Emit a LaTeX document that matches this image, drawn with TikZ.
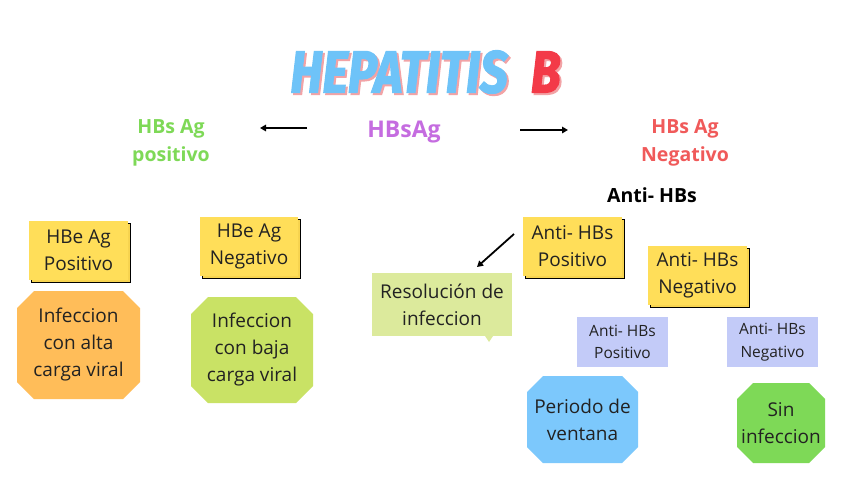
\documentclass[tikz,border=0pt]{standalone}
\usepackage{fontspec}
\setmainfont{Open Sans}
\newfontfamily\titlefont[BoldItalicFeatures={FakeBold=2.5}]{Fira Sans}
\usetikzlibrary{shadows,arrows.meta,backgrounds}
\definecolor{txt}{HTML}{222222}
\definecolor{ylw}{HTML}{FFDE59}
\definecolor{ylwb}{HTML}{F7D450}
\definecolor{orng}{HTML}{FFBD59}
\definecolor{lime}{HTML}{C9E265}
\definecolor{palelime}{HTML}{DCEA9C}
\definecolor{lav}{HTML}{C3CBF8}
\definecolor{skyb}{HTML}{7CC8FC}
\definecolor{grn}{HTML}{7ED957}
\definecolor{lblgreen}{HTML}{7ED957}
\definecolor{lblred}{HTML}{F05A5A}
\definecolor{lblpurple}{HTML}{C56CE0}
\definecolor{tblue}{HTML}{6EC3F8}
\definecolor{tred}{HTML}{F33A48}
\definecolor{tpink}{HTML}{F2A3A6}
\newcommand{\octafill}[3]{% node name, colour, cut
  \begin{pgfonlayer}{background}
  \fill[#2] ([xshift=#3pt]#1.north west) -- ([xshift=-#3pt]#1.north east)
    -- ([yshift=-#3pt]#1.north east) -- ([yshift=#3pt]#1.south east)
    -- ([xshift=-#3pt]#1.south east) -- ([xshift=#3pt]#1.south west)
    -- ([yshift=#3pt]#1.south west) -- ([yshift=-#3pt]#1.north west) -- cycle;
  \end{pgfonlayer}}
\begin{document}
\begin{tikzpicture}[x=1pt,y=-1pt,
  every node/.style={inner sep=0pt, outer sep=0pt, text=txt, align=center},
  body/.style={font=\fontsize{19}{27}\selectfont},
  small/.style={font=\fontsize{15.5}{22.5}\selectfont},
  lbl/.style={font=\bfseries\fontsize{19.5}{28}\selectfont},
  sticky/.style={body, fill=ylw, copy shadow={shadow xshift=2pt, shadow yshift=-2pt, fill=ylwb}},
  octa/.style={body, rectangle},
  lavbox/.style={small, fill=lav},
  arr/.style={line width=1.8pt, -{Triangle[length=6pt,width=6.5pt]}}]
\useasboundingbox (0,0) rectangle (848,477);
\begin{pgfonlayer}{background}
\fill[white] (0,0) rectangle (848,477);
\end{pgfonlayer}

% title
\node[text=tpink] (titleshadow) at (427.5,74) {\titlefont\bfseries\itshape\fontsize{59}{59}\selectfont\scalebox{0.83}[1]{HEPATITIS\hspace{28pt}B}};
\node (title) at (425.5,72) {\titlefont\bfseries\itshape\fontsize{59}{59}\selectfont\scalebox{0.83}[1]{\textcolor{tblue}{HEPATITIS}\hspace{28pt}\textcolor{tred}{B}}};

% top labels
\node[lbl, text=lblgreen] (pos) at (171,143) {HBs Ag\\positivo};
\node[lbl, text=lblpurple, font=\bfseries\fontsize{23}{28}\selectfont] (hbsag) at (404,132) {HBsAg};
\node[lbl, text=lblred] (neg) at (685,143) {HBs Ag\\Negativo};
\node[lbl, text=black] (anti) at (652,195) {Anti- HBs};

\coordinate (al1) at (307,128);
\coordinate (al2) at (260,128);
\coordinate (ar1) at (520,130);
\coordinate (ar2) at (568,130);
\draw[arr] (al1) -- (al2);
\draw[arr] (ar1) -- (ar2);

% left branch
\node[sticky, minimum width=99, minimum height=59] (hbepos) at (78.5,250.5) {HBe Ag\\Positivo};
\node[sticky, minimum width=98, minimum height=59] (hbeneg) at (249,246.5) {HBe Ag\\Negativo};
\node[octa, minimum width=123, minimum height=108] (alta) at (78.5,345) {Infeccion\\con alta\\carga viral};
\octafill{alta}{orng}{17}
\node[octa, minimum width=122, minimum height=106] (baja) at (252,350) {Infeccion\\con baja\\carga viral};
\octafill{baja}{lime}{17}

% right branch
\node[sticky, minimum width=99, minimum height=59] (apos) at (572.5,246.5) {Anti- HBs\\Positivo};
\node[sticky, minimum width=99, minimum height=59] (aneg) at (697.5,275.5) {Anti- HBs\\Negativo};
\node[body, fill=palelime, minimum width=140, minimum height=63] (resol) at (442,304.5) {Resolución de\\infeccion};
\fill[palelime] ([xshift=-4pt]resol.south east -| 489,0) -- (489,342) -- ([xshift=4pt]resol.south east -| 489,0) -- cycle;
\coordinate (ad1) at (514,234);
\coordinate (ad2) at (477,267);
\draw[arr] (ad1) -- (ad2);

\node[lavbox, minimum width=91, minimum height=50] (lpos) at (622.5,342) {Anti- HBs\\Positivo};
\node[lavbox, minimum width=91, minimum height=50] (lneg) at (772.5,342) {Anti- HBs\\Negativo};
\node[octa, minimum width=111, minimum height=87] (ventana) at (582.5,419.5) {Periodo de\\ventana};
\octafill{ventana}{skyb}{16}
\node[octa, minimum width=88, minimum height=80] (sin) at (781,423) {Sin\\infeccion};
\octafill{sin}{grn}{16}
\end{tikzpicture}
\end{document}
